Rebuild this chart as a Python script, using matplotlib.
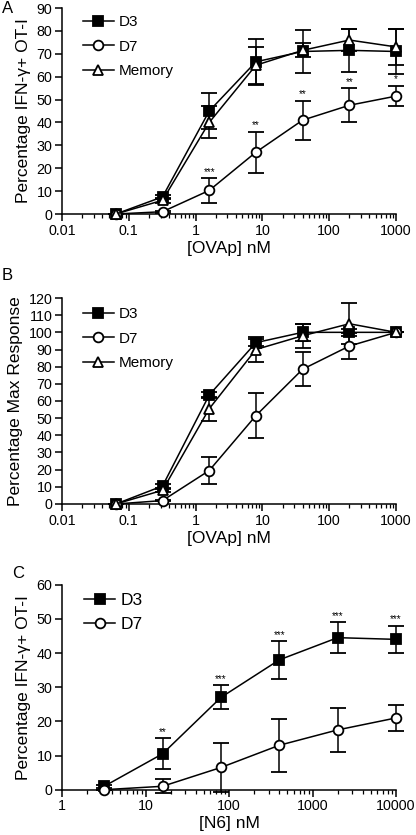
import matplotlib
matplotlib.use("Agg")
import matplotlib.pyplot as plt
import numpy as np
from matplotlib.lines import Line2D
from matplotlib.ticker import LogLocator, FixedLocator, NullFormatter, FixedFormatter

plt.rcParams['font.family'] = ['Liberation Sans', 'DejaVu Sans']

# ---- data ----
ova_x = [0.064, 0.32, 1.6, 8, 40, 200, 1000]
a_d3 = [0, 7.5, 45, 66.5, 71, 71.5, 71]
a_d3_err = [0, 1, 8, 10, 9.5, 9.5, 10]
a_d7 = [0, 1, 10.3, 27, 41, 47.5, 51.5]
a_d7_err = [0, 0.5, 5.3, 9, 8.5, 7.5, 4.5]
a_mem = [0, 6, 40, 65, 71.5, 76, 73]
a_mem_err = [0, 1, 7, 8, 3, 5, 8]
a_stars = ["", "", "***", "**", "**", "**", "*"]

b_d3 = [0, 10.5, 63.5, 94, 100, 100, 100]
b_d3_err = [0, 1, 2, 2, 5, 2, 0]
b_d7 = [0, 2, 19.5, 51.5, 78.5, 92, 100]
b_d7_err = [0, 0.5, 8, 13, 10, 7.5, 0]
b_mem = [0, 8, 55.5, 90, 98, 105, 100]
b_mem_err = [0, 1, 7, 7, 7, 12, 0]

n6_x = [3.2, 16, 80, 400, 2000, 10000]
c_d3 = [1, 10.5, 27, 38, 44.5, 44]
c_d3_err = [0.5, 4.5, 3.5, 5.5, 4.5, 4]
c_d7 = [0, 1, 6.5, 13, 17.5, 21]
c_d7_err = [0, 2, 7.3, 7.8, 6.5, 3.7]
c_stars = ["", "**", "***", "***", "***", "***"]

W, H = 416, 835
fig = plt.figure(figsize=(W / 100, H / 100), dpi=100)

def frac(l, t, r, b):
    return [l / W, 1 - b / H, (r - l) / W, (b - t) / H]

lw = 1.1
ms = 7
tick_fs = 10.3
lab_fs = 12.5

def series(ax, x, y, e, marker, fc, label):
    ax.errorbar(x, y, yerr=e, color='black', lw=lw, elinewidth=lw, capsize=6,
                capthick=lw, marker=marker, ms=ms, mfc=fc, mec='black', mew=1.3,
                clip_on=False, zorder=3)
    return Line2D([], [], color='black', lw=lw, marker=marker, ms=ms, mfc=fc,
                  mec='black', mew=1.3, label=label)

def style(ax, xmin, xmax, ymax, xticks, xlabels, xlabel, ylabel):
    ax.set_xscale('log')
    ax.set_xlim(xmin, xmax)
    ax.set_ylim(0, ymax)
    ax.spines['top'].set_visible(False)
    ax.spines['right'].set_visible(False)
    ax.spines['left'].set_linewidth(1.1)
    ax.spines['bottom'].set_linewidth(1.1)
    ax.xaxis.set_major_locator(FixedLocator(xticks))
    ax.xaxis.set_major_formatter(FixedFormatter(xlabels))
    ax.xaxis.set_minor_locator(LogLocator(base=10, subs=np.arange(2, 10)))
    ax.xaxis.set_minor_formatter(NullFormatter())
    ax.set_yticks(np.arange(0, ymax + 1, 10))
    ax.tick_params(axis='both', which='major', direction='out', length=5, width=1.1,
                   labelsize=tick_fs, pad=2)
    ax.tick_params(axis='x', which='minor', direction='out', length=3, width=0.9)
    ax.set_xlabel(xlabel, fontsize=lab_fs, labelpad=2)
    ax.set_ylabel(ylabel, fontsize=lab_fs, labelpad=4)

# ---- Panel A ----
axA = fig.add_axes(frac(62, 8, 396, 214))
hA = [series(axA, ova_x, a_d3, a_d3_err, 's', 'black', 'D3'),
      series(axA, ova_x, a_d7, a_d7_err, 'o', 'white', 'D7'),
      series(axA, ova_x, a_mem, a_mem_err, '^', 'white', 'Memory')]
style(axA, 0.01, 1000, 90, [0.01, 0.1, 1, 10, 100, 1000],
      ['0.01', '0.1', '1', '10', '100', '1000'], '[OVAp] nM', 'Percentage IFN-γ+ OT-I')
for x, y, e, s in zip(ova_x, a_d7, a_d7_err, a_stars):
    if s:
        axA.text(x, y + e + 0.6, s, ha='center', va='bottom', fontsize=7)
axA.legend(handles=hA, loc='upper left', bbox_to_anchor=(0.045, 0.995), frameon=False,
           fontsize=11, handlelength=2.0, handletextpad=0.35, labelspacing=0.68,
           borderaxespad=0)
fig.text(2 / W, 1 - 1 / H, 'A', fontsize=12, va='top', ha='left')

# ---- Panel B ----
axB = fig.add_axes(frac(62, 298, 396, 504))
hB = [series(axB, ova_x, b_d3, b_d3_err, 's', 'black', 'D3'),
      series(axB, ova_x, b_d7, b_d7_err, 'o', 'white', 'D7'),
      series(axB, ova_x, b_mem, b_mem_err, '^', 'white', 'Memory')]
style(axB, 0.01, 1000, 120, [0.01, 0.1, 1, 10, 100, 1000],
      ['0.01', '0.1', '1', '10', '100', '1000'], '[OVAp] nM', 'Percentage Max Response')
axB.legend(handles=hB, loc='upper left', bbox_to_anchor=(0.045, 0.985), frameon=False,
           fontsize=11, handlelength=2.0, handletextpad=0.35, labelspacing=0.68,
           borderaxespad=0)
fig.text(2 / W, 1 - 268 / H, 'B', fontsize=12, va='top', ha='left')

# ---- Panel C ----
axC = fig.add_axes(frac(62, 584.7, 396, 789.7))
hC = [series(axC, n6_x, c_d3, c_d3_err, 's', 'black', 'D3'),
      series(axC, n6_x, c_d7, c_d7_err, 'o', 'white', 'D7')]
style(axC, 1, 10000, 60, [1, 10, 100, 1000, 10000],
      ['1', '10', '100', '1000', '10000'], '[N6] nM', 'Percentage IFN-γ+ OT-I')
for x, y, e, s in zip(n6_x, c_d3, c_d3_err, c_stars):
    if s:
        axC.text(x, y + e + 0.4, s, ha='center', va='bottom', fontsize=7)
axC.legend(handles=hC, loc='upper left', bbox_to_anchor=(0.045, 0.995), frameon=False,
           fontsize=12.5, handlelength=1.8, handletextpad=0.3, labelspacing=0.5,
           borderaxespad=0)
fig.text(12 / W, 1 - 566 / H, 'C', fontsize=12, va='top', ha='left')

fig.savefig('out.png', dpi=100)
